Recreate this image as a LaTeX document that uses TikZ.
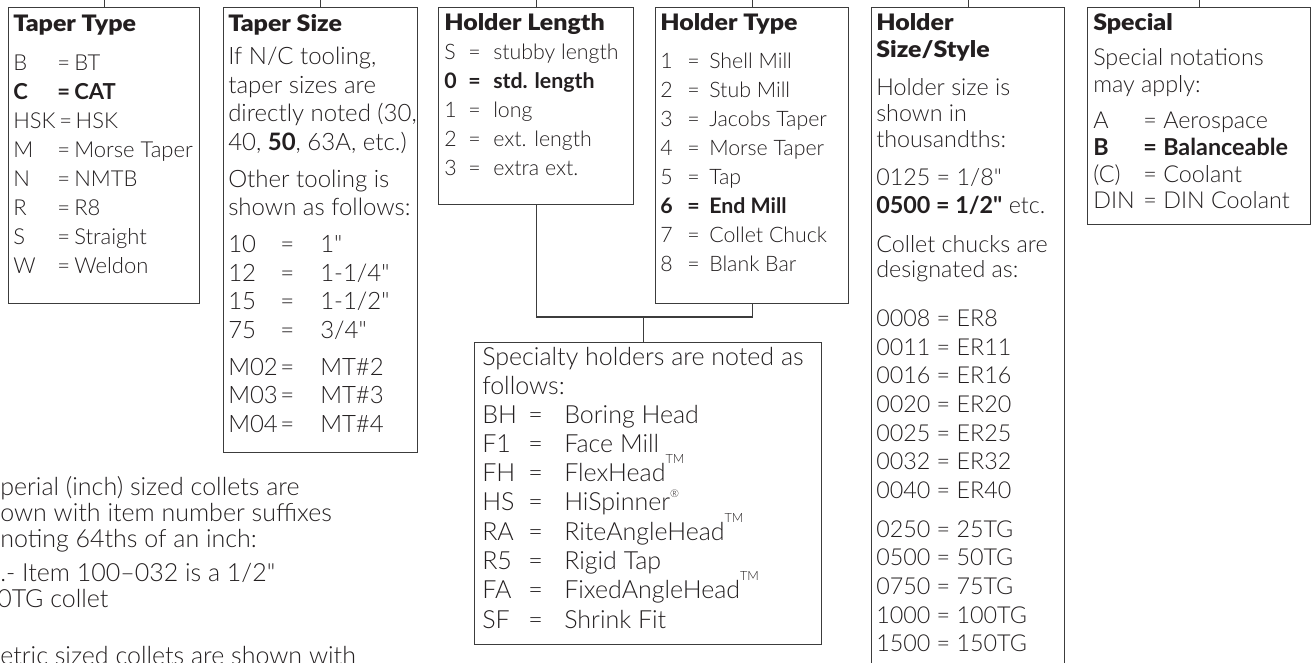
\documentclass[tikz,border=0pt]{standalone}
\usepackage{fontspec}
\IfFontExistsTF{Lato Light}{\setmainfont{Lato Light}[BoldFont={Lato Bold},Ligatures=TeXOff]}{\setmainfont{Lato}[Ligatures=TeXOff]}
\IfFontExistsTF{Lato Black}{\newfontfamily\hfont{Lato Black}[FakeStretch=1.1]}{\newcommand\hfont{\bfseries}}
\definecolor{ink}{HTML}{231F20}
\definecolor{rule}{HTML}{3C3C3C}
\newlength\pu \setlength\pu{0.75pt}
\newcommand\PL[5][txt]{\node[#1] (#2) at (#3,#4) {#5};}
\newcommand\eqrow[4]{\makebox[#1\pu][l]{#3}\makebox[#2\pu][l]{=}#4}
\newcommand\tm{\raisebox{0.7em}{\fontsize{9.5}{9.5}\selectfont TM}}
\newcommand\reg{\raisebox{0.5em}{\fontsize{8}{8}\selectfont ®}}
\begin{document}
\begin{tikzpicture}[x=0.75pt,y=-0.75pt,
  box/.style={draw=rule,line width=1.1pt,inner sep=0pt,anchor=north west},
  con/.style={draw=rule,line width=1.1pt},
  txt/.style={anchor=base west,inner sep=0pt,text=ink,font=\fontsize{16}{19}\selectfont},
  tA/.style={txt,font=\fontsize{16.5}{19}\selectfont},
  tB/.style={txt,font=\fontsize{17.5}{19}\selectfont},
  tC/.style={txt,font=\fontsize{18}{19}\selectfont},
  tD/.style={txt,font=\fontsize{18.75}{19}\selectfont},
  hd/.style={txt,font=\fontsize{17}{19}\selectfont\hfont}]
\useasboundingbox (0,0) rectangle (1312,662);
\clip (0,0) rectangle (1312,662);
% boxes
\node[box,minimum width=143.25pt,minimum height=222pt] (tt) at (8,7) {};
\node[box,minimum width=145.5pt,minimum height=333.75pt] (ts) at (223,7) {};
\node[box,minimum width=146.25pt,minimum height=147.75pt] (hl) at (438,7) {};
\node[box,minimum width=144.75pt,minimum height=222pt] (ht) at (655,7) {};
\node[box,minimum width=144.75pt,minimum height=525pt] (hs) at (871,7) {};
\node[box,minimum width=167.25pt,minimum height=162.75pt] (sp) at (1087,7) {};
\node[box,minimum width=260.25pt,minimum height=226.5pt] (sy) at (474,342) {};
% connectors
\coordinate (top) at (0,-5);
\coordinate (j) at (643.5,317);
\foreach \b in {tt,ts,hl,ht,hs,sp} \draw[con] (\b.north) -- (\b.north |- top);
\draw[con] (hl.south) |- (ht.south |- j) -- (ht.south);
\draw[con] (j) -- (j |- sy.north);
% Taper Type
\PL[hd]{tth}{13}{31}{Taper Type}
\PL[tA]{tt1}{13}{70}{\eqrow{44}{17}{B}{BT}}
\PL[tA]{tt2}{13}{99}{\bfseries\eqrow{44}{17}{C}{CAT}}
\PL[tA]{tt3}{13}{128}{HSK\,=\,HSK}
\PL[tA]{tt4}{13}{157}{\eqrow{44}{17}{M}{Morse Taper}}
\PL[tA]{tt5}{13}{186}{\eqrow{44}{17}{N}{NMTB}}
\PL[tA]{tt6}{13}{215}{\eqrow{44}{17}{R}{R8}}
\PL[tA]{tt7}{13}{244}{\eqrow{44}{17}{S}{Straight}}
\PL[tA]{tt8}{13}{273}{\eqrow{44}{17}{W}{Weldon}}
% Taper Size
\PL[hd]{tsh}{228}{31}{Taper Size}
\PL[tC]{ts1}{228}{64}{If N/C tooling,}
\PL[tC]{ts2}{228}{93}{taper sizes are}
\PL[tC]{ts3}{228}{121}{directly noted (30,}
\PL[tC]{ts4}{228}{150}{40, \textbf{50}, 63A, etc.)}
\PL[tC]{ts5}{228}{187}{Other tooling is}
\PL[tC]{ts6}{228}{215}{shown as follows:}
\PL[tC]{ts7}{228}{252}{\eqrow{52}{40}{10}{1"}}
\PL[tC]{ts8}{228}{281}{\eqrow{52}{40}{12}{1-1/4"}}
\PL[tC]{ts9}{228}{309}{\eqrow{52}{40}{15}{1-1/2"}}
\PL[tC]{ts10}{228}{338}{\eqrow{52}{40}{75}{3/4"}}
\PL[tC]{ts11}{228}{375}{\eqrow{52}{40}{M02}{MT\#2}}
\PL[tC]{ts12}{228}{403}{\eqrow{52}{40}{M03}{MT\#3}}
\PL[tC]{ts13}{228}{432}{\eqrow{52}{40}{M04}{MT\#4}}
% Holder Length
\PL[hd]{hlh}{444}{30}{Holder Length}
\PL{hl1}{444}{59}{\eqrow{24}{25}{S}{stubby length}}
\PL{hl2}{444}{88}{\bfseries\eqrow{24}{25}{0}{std. length}}
\PL{hl3}{444}{117}{\eqrow{24}{25}{1}{long}}
\PL{hl4}{444}{146}{\eqrow{24}{25}{2}{ext. length}}
\PL{hl5}{444}{175}{\eqrow{24}{25}{3}{extra ext.}}
% Holder Type
\PL[hd]{hth}{660}{30}{Holder Type}
\PL{ht1}{660}{68}{\eqrow{27}{22}{1}{Shell Mill}}
\PL{ht2}{660}{97}{\eqrow{27}{22}{2}{Stub Mill}}
\PL{ht3}{660}{126}{\eqrow{27}{22}{3}{Jacobs Taper}}
\PL{ht4}{660}{155}{\eqrow{27}{22}{4}{Morse Taper}}
\PL{ht5}{660}{184}{\eqrow{27}{22}{5}{Tap}}
\PL{ht6}{660}{213}{\bfseries\eqrow{27}{22}{6}{End Mill}}
\PL{ht7}{660}{242}{\eqrow{27}{22}{7}{Collet Chuck}}
\PL{ht8}{660}{271}{\eqrow{27}{22}{8}{Blank Bar}}
% Holder Size/Style
\PL[hd]{hsh1}{876}{30}{Holder}
\PL[hd]{hsh2}{876}{57}{Size/Style}
\PL[tB]{hs1}{876}{95}{Holder size is}
\PL[tB]{hs2}{876}{121}{shown in}
\PL[tB]{hs3}{876}{147}{thousandths:}
\PL[tB]{hs4}{876}{185}{0125 = 1/8"}
\PL[tB]{hs5}{876}{213}{\textbf{0500 = 1/2"} etc.}
\PL[tB]{hs6}{876}{252}{Collet chucks are}
\PL[tB]{hs7}{876}{277}{designated as:}
\PL[tB]{hs8}{876}{326}{0008 = ER8}
\PL[tB]{hs9}{876}{355}{0011 = ER11}
\PL[tB]{hs10}{876}{383}{0016 = ER16}
\PL[tB]{hs11}{876}{412}{0020 = ER20}
\PL[tB]{hs12}{876}{441}{0025 = ER25}
\PL[tB]{hs13}{876}{469}{0032 = ER32}
\PL[tB]{hs14}{876}{498}{0040 = ER40}
\PL[tB]{hs15}{876}{537}{0250 = 25TG}
\PL[tB]{hs16}{876}{565}{0500 = 50TG}
\PL[tB]{hs17}{876}{594}{0750 = 75TG}
\PL[tB]{hs18}{876}{623}{1000 = 100TG}
\PL[tB]{hs19}{876}{651}{1500 = 150TG}
% Special
\PL[hd]{sph}{1093}{30}{Special}
\PL[tB]{sp1}{1093}{65}{Special notations}
\PL[tB]{sp2}{1093}{92}{may apply:}
\PL[tB]{sp3}{1093}{128}{\eqrow{50}{20}{A}{Aerospace}}
\PL[tB]{sp4}{1093}{155}{\bfseries\eqrow{50}{20}{B}{Balanceable}}
\PL[tB]{sp5}{1093}{182}{\eqrow{50}{20}{(C)}{Coolant}}
\PL[tB]{sp6}{1093}{208}{\eqrow{50}{20}{DIN}{DIN Coolant}}
% Specialty holders
\PL[tD]{sy0}{482}{365}{Specialty holders are noted as}
\PL[tD]{sy1}{482}{394}{follows:}
\PL[tD]{sy2}{482}{423}{\eqrow{46}{36}{BH}{Boring Head}}
\PL[tD]{sy3}{482}{452}{\eqrow{46}{36}{F1}{Face Mill}}
\PL[tD]{sy4}{482}{481}{\eqrow{46}{36}{FH}{FlexHead\tm}}
\PL[tD]{sy5}{482}{510}{\eqrow{46}{36}{HS}{HiSpinner\reg}}
\PL[tD]{sy6}{482}{540}{\eqrow{46}{36}{RA}{RiteAngleHead\tm}}
\PL[tD]{sy7}{482}{569}{\eqrow{46}{36}{R5}{Rigid Tap}}
\PL[tD]{sy8}{482}{598}{\eqrow{46}{36}{FA}{FixedAngleHead\tm}}
\PL[tD]{sy9}{482}{628}{\eqrow{46}{36}{SF}{Shrink Fit}}
% left notes (cut at the picture edge)
\PL[tD]{lt1}{0}{495}{perial (inch) sized collets are}
\PL[tD]{lt2}{0}{521}{own with item number suffixes}
\PL[tD]{lt3}{0}{547}{noting 64ths of an inch:}
\PL[tD]{lt4}{0}{581}{.- Item 100–032 is a 1/2"}
\PL[tD]{lt5}{-3}{607}{0TG collet}
\PL[tD]{lt6}{0}{664}{etric sized collets are shown with}
\end{tikzpicture}
\end{document}
